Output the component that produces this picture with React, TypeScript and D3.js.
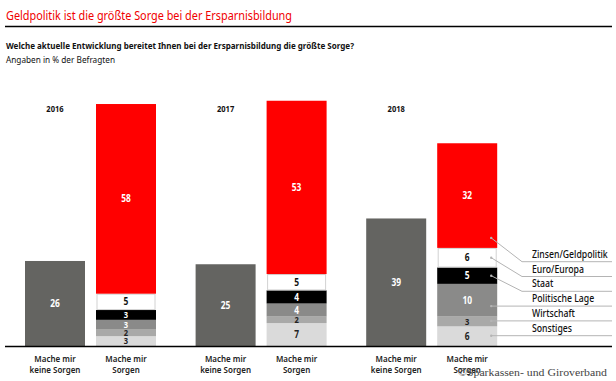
import React from "react";
import * as d3 from "d3";

const years = ["2016", "2017", "2018"];
const noWorries = [26, 25, 39];
const categories = ["Sonstiges", "Wirtschaft", "Politische Lage", "Staat", "Euro/Europa", "Zinsen/Geldpolitik"];
const sonstiges = [3, 7, 6];
const wirtschaft = [2, 2, 3];
const politischeLage = [3, 4, 10];
const staat = [3, 4, 5];
const euroEuropa = [5, 5, 6];
const zinsen = [58, 53, 32];
const barLabelsTop = ["Mache mir", "Mache mir"];
const barLabelsBottom = ["keine Sorgen", "Sorgen"];

const colors: Record<string, string> = {
  "Sonstiges": "#dadada",
  "Wirtschaft": "#a9a9a8",
  "Politische Lage": "#8a8a89",
  "Staat": "#000000",
  "Euro/Europa": "#ffffff",
  "Zinsen/Geldpolitik": "#ff0000",
};
const textColors: Record<string, string> = {
  "Sonstiges": "#222",
  "Wirtschaft": "#222",
  "Politische Lage": "#fff",
  "Staat": "#fff",
  "Euro/Europa": "#111",
  "Zinsen/Geldpolitik": "#fff",
};

const W = 616;
const H = 381;
const FONT = "'Noto Sans', 'Open Sans', sans-serif";
const SX = 0.84;

function T(props: {
  x: number; y: number; children: any; size?: number; weight?: number | string;
  fill?: string; anchor?: string; sx?: number; len?: number; family?: string;
}) {
  const { x, y, children, size = 9.5, weight = 400, fill = "#111", anchor = "start", sx = SX, len, family = FONT } = props;
  if (len) {
    return (
      <text x={x} y={y} fontSize={size} fontWeight={weight} fill={fill} textAnchor={anchor}
        fontFamily={family} textLength={len} lengthAdjust="spacingAndGlyphs">{children}</text>
    );
  }
  return (
    <text transform={`translate(${x},${y}) scale(${sx},1)`} fontSize={size} fontWeight={weight}
      fill={fill} textAnchor={anchor} fontFamily={family}>{children}</text>
  );
}

export default function App() {
  const baseline = 346;
  const y = d3.scaleLinear().domain([0, 100]).range([baseline, baseline - 327]);
  const gx = d3.scaleBand().domain(years).range([25, 25 + 3 * 170.6]).padding(0);
  const ix = d3.scaleBand().domain(["keine", "sorgen"]).range([0, 131]).paddingInner(0.155);
  const bw = ix.bandwidth();

  const rows = years.map((yr, i) => ({
    year: yr,
    "Sonstiges": sonstiges[i],
    "Wirtschaft": wirtschaft[i],
    "Politische Lage": politischeLage[i],
    "Staat": staat[i],
    "Euro/Europa": euroEuropa[i],
    "Zinsen/Geldpolitik": zinsen[i],
  }));
  const stacked = d3.stack<any>().keys(categories)(rows);

  const lastIdx = years.length - 1;
  const lastX = (gx(years[lastIdx]) as number) + (ix("sorgen") as number);
  const anchorX = lastX + bw - 6;
  const legendStartX = 522;
  const legendEndX = 612;
  const legendTop = 261.7;
  const legendStep = 14.8;
  const legendOrder = [...categories].reverse();

  return (
    <svg width={W} height={H} style={{ position: "absolute", left: 0, top: 0, background: "#fff" }}>
      <rect width={W} height={H} fill="#fff" />
      <T x={6} y={19.5} size={12.5} fill="#f00000" len={286}>Geldpolitik ist die größte Sorge bei der Ersparnisbildung</T>
      <line x1={5} x2={612} y1={26.5} y2={26.5} stroke="#000" strokeWidth={1.5} />
      <T x={6} y={48.5} size={9.5} weight={700} fill="#111" len={348}>Welche aktuelle Entwicklung bereitet Ihnen bei der Ersparnisbildung die größte Sorge?</T>
      <T x={6} y={62.5} size={9} fill="#111" len={109}>Angaben in % der Befragten</T>

      {years.map((yr, i) => {
        const g0 = gx(yr) as number;
        const kx = g0 + (ix("keine") as number);
        const sx0 = g0 + (ix("sorgen") as number);
        return (
          <g key={yr}>
            <T x={kx + bw / 2} y={112} size={9} weight={700} anchor="middle">{yr}</T>
            <rect x={kx} y={y(noWorries[i])} width={bw} height={baseline - y(noWorries[i])} fill="#646461" />
            <T x={kx + bw / 2} y={(y(noWorries[i]) + baseline) / 2 + 3.5} size={10} weight={700} fill="#fff" anchor="middle">{noWorries[i]}</T>
            {stacked.map((s) => {
              const d = s[i];
              const top = y(d[1]);
              const bot = y(d[0]);
              const key = s.key;
              const isWhite = key === "Euro/Europa";
              const v = d[1] - d[0];
              const fs = v < 4 ? 9 : 10;
              return (
                <g key={key}>
                  {isWhite ? (
                    <rect x={sx0 + 1} y={top + 0.5} width={bw - 2} height={bot - top - 1} fill="#fff" stroke="#d2d2d2" strokeWidth={1} />
                  ) : (
                    <rect x={sx0} y={top} width={bw} height={bot - top} fill={colors[key]} />
                  )}
                  <T x={sx0 + bw / 2} y={(top + bot) / 2 + fs * 0.36} size={fs} weight={700} fill={textColors[key]} anchor="middle">{v}</T>
                </g>
              );
            })}
            {[kx, sx0].map((bx, j) => (
              <g key={j}>
                <T x={bx + bw / 2} y={361.5} size={9.5} weight={600} fill="#222" anchor="middle">{barLabelsTop[j]}</T>
                <T x={bx + bw / 2} y={372.5} size={9.5} weight={600} fill="#222" anchor="middle">{barLabelsBottom[j]}</T>
              </g>
            ))}
          </g>
        );
      })}

      {legendOrder.map((cat, k) => {
        const ly = legendTop + k * legendStep;
        const s = stacked.find((q) => q.key === cat)!;
        const d = s[lastIdx];
        const top = y(d[1]);
        const bot = y(d[0]);
        const inside = ly > top && ly < bot;
        const ay = Math.max((top + bot) / 2, bot - 10);
        return (
          <g key={cat}>
            {inside ? (
              <line x1={anchorX} x2={legendEndX} y1={ly} y2={ly} stroke="#b4b4b4" strokeWidth={1} />
            ) : (
              <polyline points={`${anchorX},${ay} ${legendStartX},${ly} ${legendEndX},${ly}`} fill="none" stroke="#b4b4b4" strokeWidth={1} />
            )}
            <circle cx={anchorX} cy={inside ? ly : ay} r={1.2} fill="#b4b4b4" />
            <T x={532} y={ly - 4} size={10} weight={500} sx={0.87} fill="#111">{cat}</T>
          </g>
        );
      })}

      <line x1={5} x2={612} y1={346.5} y2={346.5} stroke="#000" strokeWidth={1.5} />
      <T x={458} y={376} size={11} fill="#444" len={149} family="'Liberation Serif', 'DejaVu Serif', serif">©Sparkassen- und Giroverband</T>
    </svg>
  );
}
